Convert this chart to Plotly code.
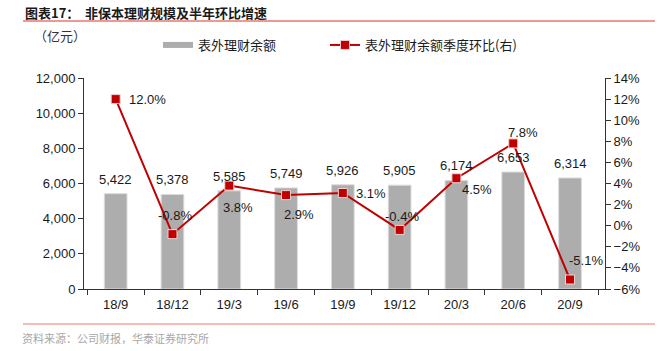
import plotly.graph_objects as go

categories = ["18/9", "18/12", "19/3", "19/6", "19/9", "19/12", "20/3", "20/6", "20/9"]
balance = [5422, 5378, 5585, 5749, 5926, 5905, 6174, 6653, 6314]
qoq_pct = [12.0, -0.8, 3.8, 2.9, 3.1, -0.4, 4.5, 7.8, -5.1]

bar_name = "表外理财余额"
line_name = "表外理财余额季度环比(右)"

# label offsets (px) for percentage labels: style only
pct_dx = [32, 3, 9, 13, 28, 2, 21, 10, 16]
pct_dy = [0, 19, -22, -19, 0, 13, -11, 11, 19]

NUM_FONT = "Liberation Sans, Arial, sans-serif"
CJK_FONT = "Noto Sans CJK SC, sans-serif"
RED = "#C00000"
GRAY = "#ADADAD"

fig = go.Figure()
fig.add_trace(go.Bar(
    x=categories, y=balance, name=bar_name, yaxis="y",
    marker=dict(color=GRAY, line=dict(color="#DCDCDC", width=1)),
    width=0.4, showlegend=False, hoverinfo="x+y",
))
# legend proxy for bars (wide gray swatch)
fig.add_trace(go.Scatter(
    x=[None], y=[None], mode="lines", name=bar_name, legend="legend",
    line=dict(color=GRAY, width=6), showlegend=True,
))
fig.add_trace(go.Scatter(
    x=categories, y=qoq_pct, name=line_name, yaxis="y2", legend="legend2",
    mode="lines+markers",
    line=dict(color=RED, width=2),
    marker=dict(symbol="square", size=9, color=RED, line=dict(color="#F2D0D0", width=1)),
))

annotations = []
for c, v in zip(categories, balance):
    annotations.append(dict(
        x=c, y=v, xref="x", yref="y", text=f"{v:,}", showarrow=False,
        yanchor="bottom", yshift=5,
        font=dict(family=NUM_FONT, size=13, color="#1a1a1a"),
    ))
for c, v, dx, dy in zip(categories, qoq_pct, pct_dx, pct_dy):
    annotations.append(dict(
        x=c, y=v, xref="x", yref="y2", text=f"{v:.1f}%", showarrow=False,
        xshift=dx, yshift=dy,
        font=dict(family=NUM_FONT, size=13, color="#1a1a1a"),
    ))

# title & notes
annotations += [
    dict(x=23, y=351 - 12, xref="paper", yref="paper", text="<b>图表17：</b>", showarrow=False,
         xanchor="left", yanchor="middle", font=dict(family=CJK_FONT, size=13, color="#1a1a1a")),
    dict(x=83, y=351 - 12, xref="paper", yref="paper", text="<b>非保本理财规模及半年环比增速</b>",
         showarrow=False, xanchor="left", yanchor="middle",
         font=dict(family=CJK_FONT, size=13, color="#1a1a1a")),
    dict(x=32, y=351 - 36, xref="paper", yref="paper", text="（亿元）", showarrow=False,
         xanchor="left", yanchor="middle", font=dict(family=CJK_FONT, size=13, color="#333333")),
    dict(x=20, y=351 - 338, xref="paper", yref="paper", text="资料来源：公司财报，华泰证券研究所",
         showarrow=False, xanchor="left", yanchor="middle",
         font=dict(family=CJK_FONT, size=11, color="#A8A8A8")),
]

# convert pixel-based paper annotations
L, R, T, B = 84, 53, 78, 62
PW, PH = 658 - L - R, 351 - T - B
for a in annotations:
    if a["xref"] == "paper":
        a["x"] = (a["x"] - L) / PW
        a["y"] = (a["y"] - B) / PH

def px_x(p):
    return (p - L) / PW

def px_y(p):
    return ((351 - p) - B) / PH

shapes = [
    dict(type="line", xref="paper", yref="paper", x0=px_x(23), x1=px_x(655), y0=px_y(21), y1=px_y(21),
         line=dict(color="#E8776E", width=1.5)),
    dict(type="line", xref="paper", yref="paper", x0=px_x(23), x1=px_x(655), y0=px_y(324), y1=px_y(324),
         line=dict(color="#F4A49C", width=1.5)),
]

axis_common = dict(
    showgrid=False, zeroline=False, showline=True, linecolor="#333333", linewidth=1,
    ticks="outside", ticklen=5, tickcolor="#333333",
    tickfont=dict(family=NUM_FONT, size=13, color="#1a1a1a"),
)

legend_common = dict(orientation="h", xanchor="left", yanchor="middle",
                     font=dict(family=CJK_FONT, size=13, color="#1a1a1a"),
                     itemwidth=30, bgcolor="rgba(0,0,0,0)")

fig.update_layout(
    width=658, height=351,
    margin=dict(l=L, r=R, t=T, b=B, pad=0),
    plot_bgcolor="white", paper_bgcolor="white",
    xaxis=dict(**axis_common, tickson="boundaries", type="category", ticklabelstandoff=3),
    yaxis=dict(**axis_common, range=[0, 12000], dtick=2000, tickformat=",", fixedrange=True),
    yaxis2=dict(**axis_common, overlaying="y", side="right", range=[-6, 14], dtick=2,
                ticksuffix="%"),
    legend=dict(**legend_common, x=px_x(158), y=px_y(45)),
    legend2=dict(**legend_common, x=px_x(325), y=px_y(45)),
    annotations=annotations,
    shapes=shapes,
    bargap=0.6,
)

fig.write_html("out.html")
